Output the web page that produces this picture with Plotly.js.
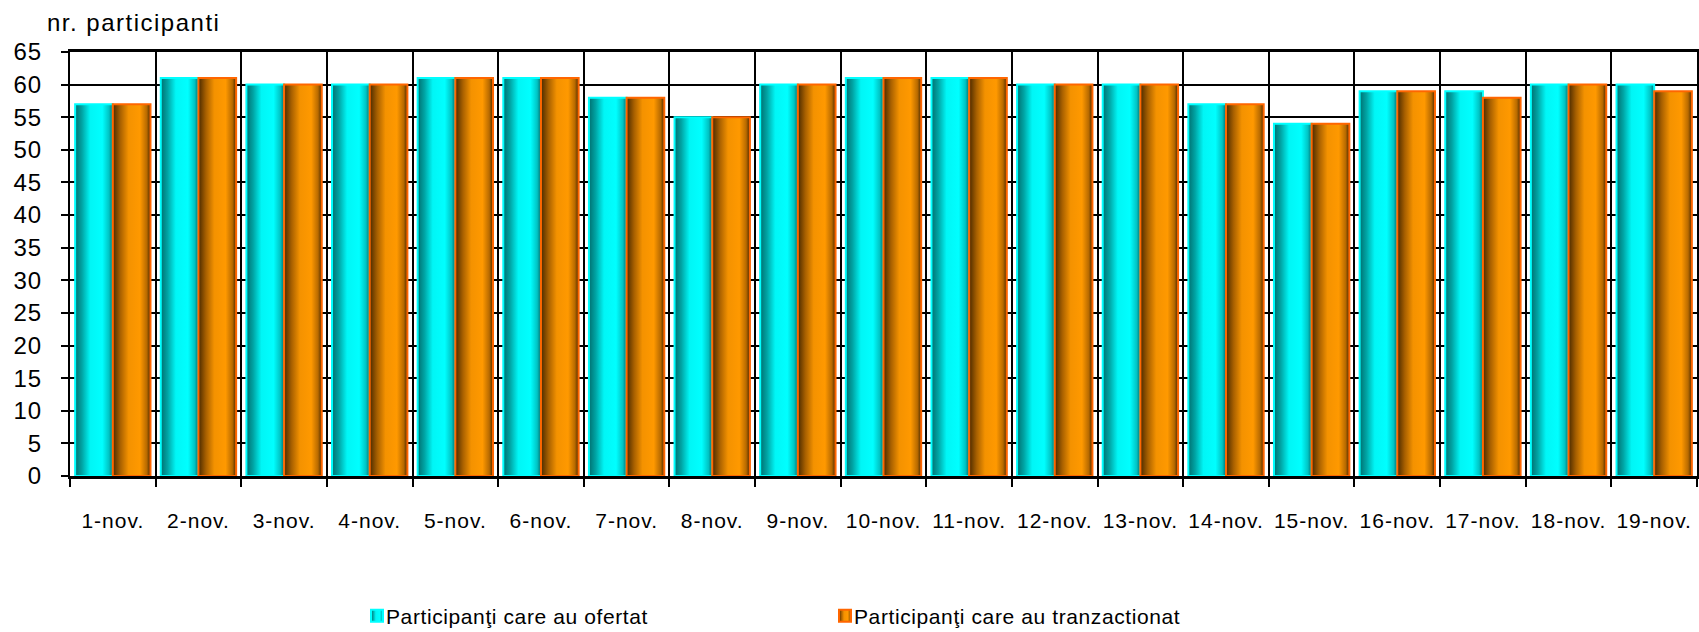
<!DOCTYPE html>
<html>
<head>
<meta charset="utf-8">
<script src="https://cdn.plot.ly/plotly-3.0.1.min.js"></script>
<style>
  body { margin: 0; background: #fff; }
  #chart { width: 1699px; height: 632px; }
  #chart .xtick text { letter-spacing: 1px; }
  #chart .ytick text { letter-spacing: 1px; }
  #chart .annotation-text { letter-spacing: 1.5px; }
  #chart .legendtext { letter-spacing: 0.6px; }
</style>
</head>
<body>
<div id="chart"></div>
<script>
var days = ['1-nov.', '2-nov.', '3-nov.', '4-nov.', '5-nov.', '6-nov.', '7-nov.', '8-nov.', '9-nov.', '10-nov.',
            '11-nov.', '12-nov.', '13-nov.', '14-nov.', '15-nov.', '16-nov.', '17-nov.', '18-nov.', '19-nov.'];
var ofertat = [57, 61, 60, 60, 61, 61, 58, 55, 60, 61, 61, 60, 60, 57, 54, 59, 59, 60, 60];
var tranzactionat = [57, 61, 60, 60, 61, 61, 58, 55, 60, 61, 61, 60, 60, 57, 54, 59, 58, 60, 59];

var font = 'Liberation Sans, Arial, sans-serif';

var ofertTrace = {
  x: days,
  y: ofertat,
  name: 'Participanţi care au ofertat',
  type: 'bar',
  marker: {color: '#00e5e5', line: {color: '#00ffff', width: 2}}
};

var tranzTrace = {
  x: days,
  y: tranzactionat,
  name: 'Participanţi care au tranzactionat',
  type: 'bar',
  marker: {color: '#f09000', line: {color: '#ff6600', width: 2}}
};

var layout = {
  width: 1699,
  height: 632,
  autosize: false,
  paper_bgcolor: '#ffffff',
  plot_bgcolor: '#ffffff',
  font: {family: font, color: '#000000'},
  margin: {l: 70, r: 2, t: 52, b: 156, pad: 0},
  barmode: 'group',
  bargap: 0.12,
  bargroupgap: 0,
  showlegend: true,
  legend: {
    orientation: 'h',
    xref: 'container',
    yref: 'container',
    x: 346 / 1699,
    y: 16 / 632,
    xanchor: 'left',
    yanchor: 'middle',
    itemwidth: 30,
    entrywidth: 423,
    entrywidthmode: 'pixels',
    font: {family: font, size: 21, color: '#000000'},
    bgcolor: 'rgba(0,0,0,0)'
  },
  xaxis: {
    type: 'category',
    tickson: 'boundaries',
    ticks: 'outside',
    ticklen: 8,
    tickwidth: 2,
    tickcolor: '#000000',
    showgrid: true,
    gridcolor: '#000000',
    gridwidth: 2,
    showline: true,
    linecolor: '#000000',
    linewidth: 3,
    mirror: true,
    ticklabelstandoff: 24,
    tickfont: {family: font, size: 21, color: '#000000'}
  },
  yaxis: {
    range: [0, 65],
    dtick: 5,
    tick0: 0,
    ticks: 'outside',
    ticklen: 7,
    tickwidth: 2,
    tickcolor: '#000000',
    showgrid: true,
    gridcolor: '#000000',
    gridwidth: 2,
    zeroline: false,
    showline: true,
    linecolor: '#000000',
    linewidth: 2,
    mirror: true,
    ticklabelstandoff: 14,
    tickfont: {family: font, size: 24, color: '#000000'}
  },
  annotations: [{
    text: 'nr. participanti',
    xref: 'paper', yref: 'paper',
    x: (57 - 70) / 1627, y: 1 + (52 - 22) / 424,
    xanchor: 'left', yanchor: 'middle',
    showarrow: false,
    font: {family: font, size: 24, color: '#000000'}
  }]
};

// cylinder-like shading for the bars
function addGradient(defs, id, stops) {
  var ns = 'http://www.w3.org/2000/svg';
  var g = document.createElementNS(ns, 'linearGradient');
  g.setAttribute('id', id);
  g.setAttribute('x1', '0'); g.setAttribute('y1', '0');
  g.setAttribute('x2', '1'); g.setAttribute('y2', '0');
  stops.forEach(function(s) {
    var st = document.createElementNS(ns, 'stop');
    st.setAttribute('offset', s[0]);
    st.setAttribute('stop-color', s[1]);
    g.appendChild(st);
  });
  defs.appendChild(g);
}

function shadeBars(gd) {
  var svg = gd.querySelector('svg.main-svg');
  var defs = svg.querySelector('defs');
  addGradient(defs, 'gradCyan', [['0', '#007070'], ['0.18', '#00a4a4'], ['0.4', '#00f6f6'], ['0.72', '#00ffff'], ['0.9', '#00c4c4'], ['1', '#007070']]);
  addGradient(defs, 'gradOrange', [['0', '#4a2a00'], ['0.2', '#a86000'], ['0.42', '#f49200'], ['0.72', '#ff9900'], ['0.9', '#b86a00'], ['1', '#4a2a00']]);
  var ids = ['gradCyan', 'gradOrange'];
  gd.querySelectorAll('.barlayer .trace').forEach(function(tr, i) {
    tr.querySelectorAll('path').forEach(function(p) {
      p.style.fill = 'url(#' + ids[i] + ')';
    });
  });
  // legend swatches: shaded too, and pulled up against their text
  gd.querySelectorAll('.legend .traces').forEach(function(tr, i) {
    tr.querySelectorAll('.legendpoints').forEach(function(g) {
      g.setAttribute('transform', 'translate(11,0)');
    });
    tr.querySelectorAll('.legendpoints path').forEach(function(p) {
      p.style.fill = 'url(#' + ids[i] + ')';
    });
  });
}

var gd = document.getElementById('chart');
Plotly.newPlot(gd, [ofertTrace, tranzTrace], layout, {displayModeBar: false, staticPlot: true})
  .then(shadeBars);
</script>
</body>
</html>
